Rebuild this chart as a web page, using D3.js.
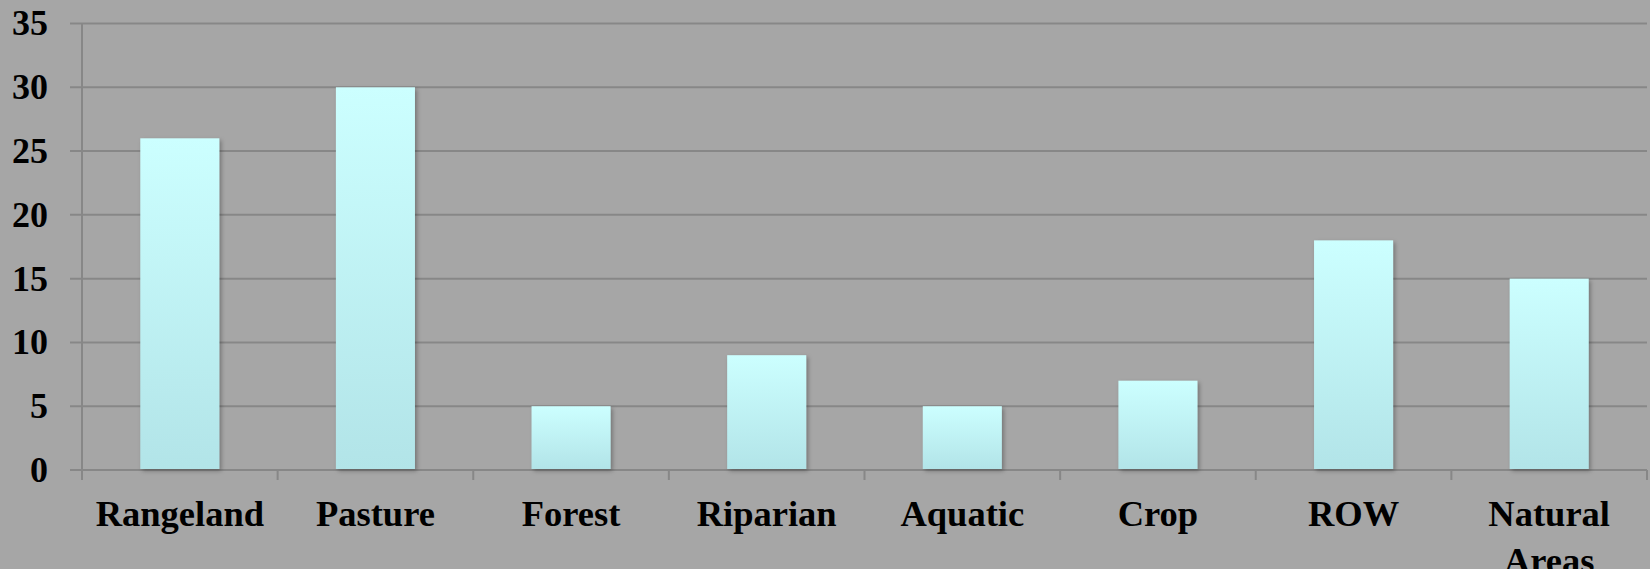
<!DOCTYPE html>
<html>
<head>
<meta charset="utf-8">
<script src="https://cdn.jsdelivr.net/npm/d3@7"></script>
<style>
  html, body { margin: 0; padding: 0; background: #a6a6a6; }
  svg { display: block; }
</style>
</head>
<body>
<svg id="chart" width="1650" height="569"></svg>
<script>
const categories = ["Rangeland", "Pasture", "Forest", "Riparian", "Aquatic", "Crop", "ROW", "Natural Areas"];
const values = [26, 30, 5, 9, 5, 7, 18, 15];
const yTicks = [0, 5, 10, 15, 20, 25, 30, 35];

(function () {
const svg = d3.select("#chart");
const W = 1650, H = 569;
const mLeft = 82, mRight = 1647, mTop = 23.5, mBottom = 470;

svg.append("rect").attr("width", W).attr("height", H).attr("fill", "#a6a6a6");

const defs = svg.append("defs");
const grad = defs.append("linearGradient").attr("id", "barGrad")
  .attr("x1", 0).attr("y1", 0).attr("x2", 0).attr("y2", 1);
grad.append("stop").attr("offset", "0%").attr("stop-color", "#ccffff");
grad.append("stop").attr("offset", "100%").attr("stop-color", "#b2e4e8");

const filt = defs.append("filter").attr("id", "shadow")
  .attr("x", "-10%").attr("y", "-10%").attr("width", "130%").attr("height", "130%");
filt.append("feDropShadow").attr("dx", 2).attr("dy", 2).attr("stdDeviation", 2)
  .attr("flood-color", "#000").attr("flood-opacity", 0.3);

const x = d3.scaleBand().domain(categories).range([mLeft, mRight]).paddingInner(0.596).paddingOuter(0.298);
const xb = d3.scaleBand().domain(categories).range([mLeft, mRight]);
const y = d3.scaleLinear().domain([0, 35]).range([mBottom, mTop]);

// gridlines
svg.append("g").selectAll("line").data(yTicks).join("line")
  .attr("x1", 70).attr("x2", mRight)
  .attr("y1", d => y(d)).attr("y2", d => y(d))
  .attr("stroke", "#878787").attr("stroke-width", 2);

// y axis line
svg.append("line").attr("x1", mLeft).attr("x2", mLeft).attr("y1", mTop).attr("y2", mBottom)
  .attr("stroke", "#878787").attr("stroke-width", 2);

// x tick marks at band boundaries
const bounds = categories.map(c => xb(c)).concat([mRight]);
svg.append("g").selectAll("line").data(bounds).join("line")
  .attr("x1", d => d).attr("x2", d => d)
  .attr("y1", mBottom).attr("y2", mBottom + 10)
  .attr("stroke", "#878787").attr("stroke-width", 2);

// bars
svg.append("g").selectAll("rect").data(categories).join("rect")
  .attr("x", d => x(d))
  .attr("width", x.bandwidth())
  .attr("y", (d, i) => y(values[i]))
  .attr("height", (d, i) => y(0) - y(values[i]) - 1)
  .attr("fill", "url(#barGrad)")
  .attr("filter", "url(#shadow)");

// y labels
svg.append("g").selectAll("text").data(yTicks).join("text")
  .attr("x", 48).attr("y", d => y(d)).attr("dy", "0.33em")
  .attr("text-anchor", "end")
  .attr("font-family", "'Liberation Serif', 'Times New Roman', serif")
  .attr("font-weight", "bold").attr("font-size", 36)
  .attr("fill", "#000")
  .text(d => d);

// x labels
const xl = svg.append("g").selectAll("text").data(categories).join("text")
  .attr("x", d => xb(d) + xb.bandwidth() / 2)
  .attr("y", 526)
  .attr("text-anchor", "middle")
  .attr("font-family", "'Liberation Serif', 'Times New Roman', serif")
  .attr("font-weight", "bold").attr("font-size", 36.5)
  .attr("fill", "#000");
xl.each(function(d) {
  const words = d.split(" ");
  const t = d3.select(this);
  const cx = xb(d) + xb.bandwidth() / 2;
  words.forEach((w, i) => {
    t.append("tspan").attr("x", cx).attr("dy", i === 0 ? 0 : 46.5).text(w);
  });
});
})();
</script>
</body>
</html>
